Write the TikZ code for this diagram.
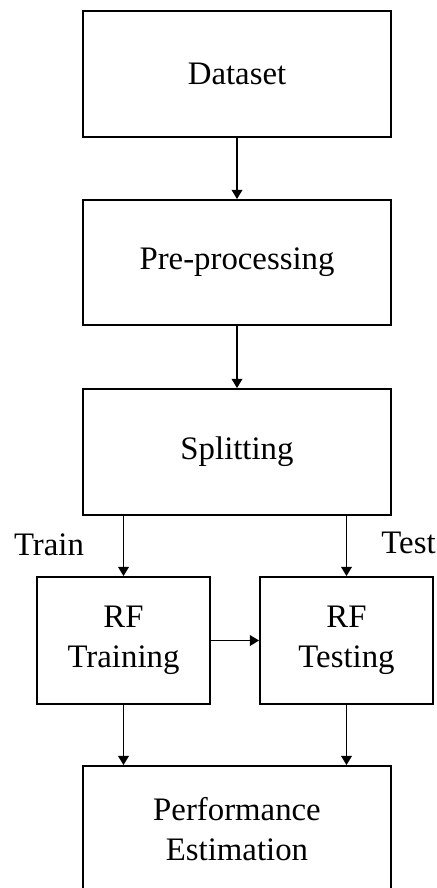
\documentclass[tikz,border=0pt]{standalone}
\usepackage{fontspec}
\setmainfont{Liberation Serif}
\usetikzlibrary{arrows.meta}
\begin{document}
\begin{tikzpicture}[
    stage/.style={draw, line width=1.5pt, minimum width=9.24cm, minimum height=3.78cm,
        align=center, font=\fontsize{28}{34}\selectfont},
    rfbox/.style={stage, minimum width=5.19cm, minimum height=3.81cm},
    flow/.style={-{Triangle[length=0.28cm, width=0.32cm]}, line width=1.5pt},
    tag/.style={font=\fontsize{28}{34}\selectfont}
]
    \useasboundingbox (0,0) rectangle (13.11,-26.64);

    % Main pipeline boxes
    \node[stage] (data) at (7.11,-2.22) {Dataset};
    \node[stage, minimum height=3.75cm] (prep) at (7.11,-7.875) {Pre-processing};
    \node[stage] (split) at (7.11,-13.56) {Splitting};

    % Random forest boxes
    \node[rfbox] (train) at (3.705,-19.215) {RF\\Training};
    \node[rfbox] (test) at (10.395,-19.215) {RF\\Testing};

    \node[stage] (perf) at (7.11,-24.87) {Performance\\Estimation};

    % Branch labels
    \node[tag] (trainlbl) at (1.47,-16.35) {Train};
    \node[tag] (testlbl) at (12.255,-16.29) {Test};

    % Arrows
    \draw[flow] (data) -- (prep);
    \draw[flow] (prep) -- (split);
    \draw[flow] (train.north |- split.south) -- (train.north);
    \draw[flow] (test.north |- split.south) -- (test.north);
    \draw[flow] (train) -- (test);
    \draw[flow] (train.south) -- (train.south |- perf.north);
    \draw[flow] (test.south) -- (test.south |- perf.north);
\end{tikzpicture}
\end{document}
